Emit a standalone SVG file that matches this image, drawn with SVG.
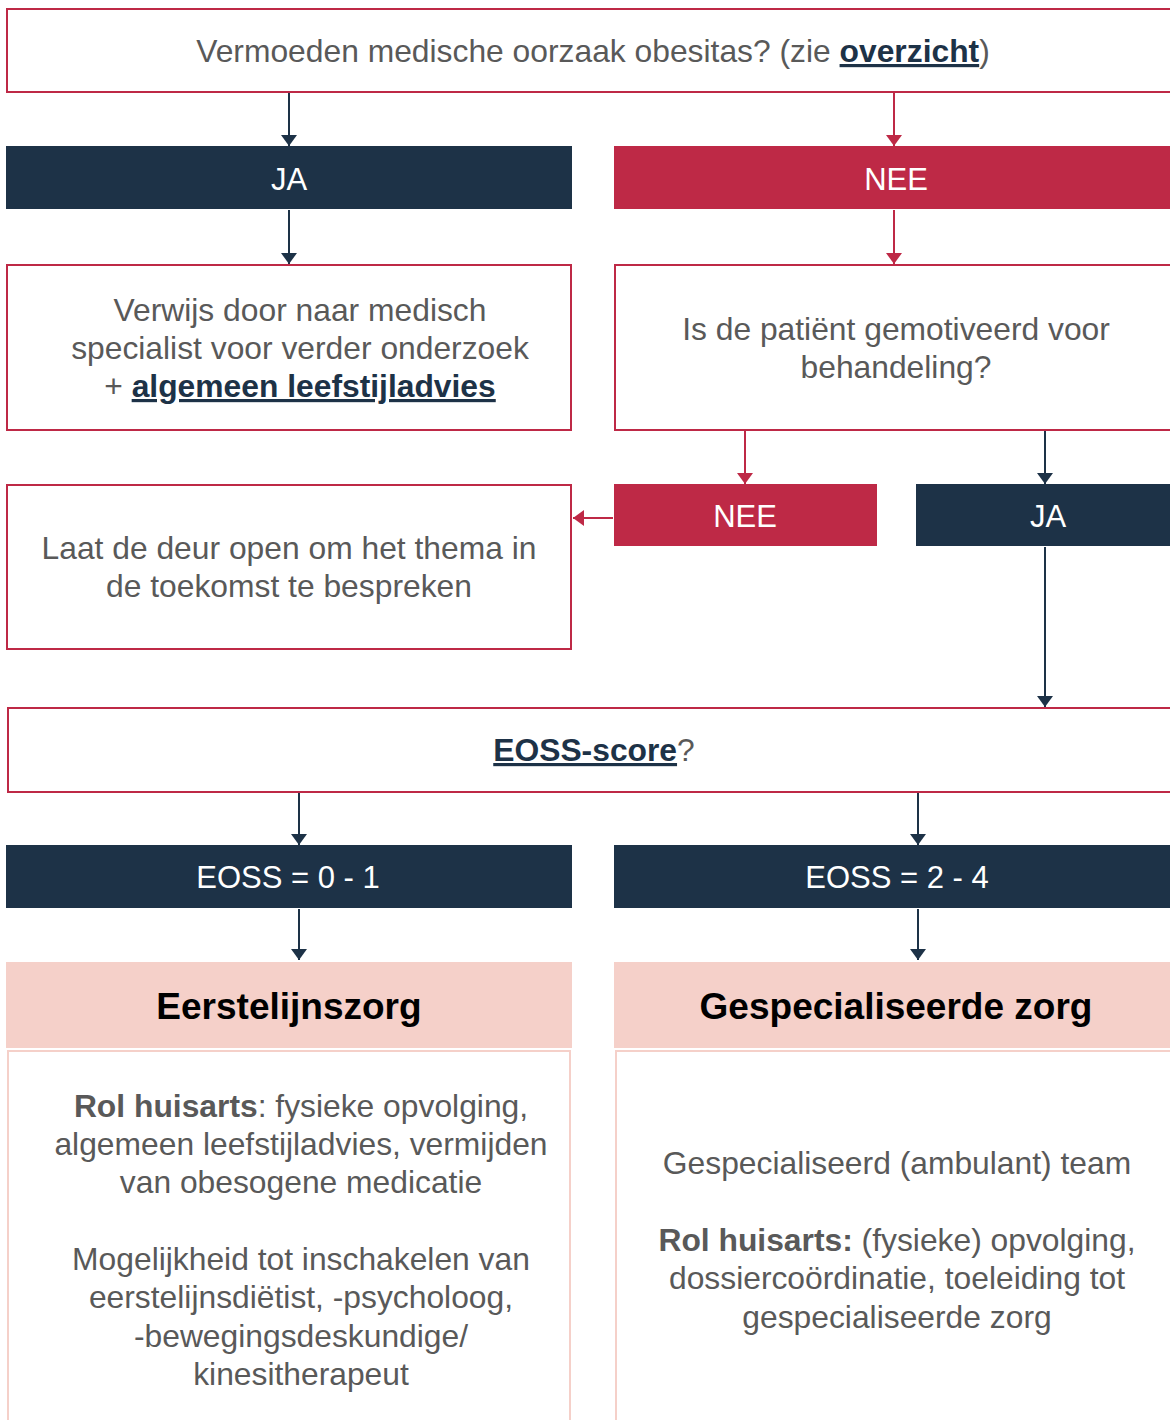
<svg xmlns="http://www.w3.org/2000/svg" width="1170" height="1420" viewBox="0 0 1170 1420">
<defs>
<style>
.t{font-family:"Liberation Sans",Arial,sans-serif;font-size:31.8px;fill:#595959;text-anchor:middle}
.w{fill:#ffffff;font-size:31px}
.b{font-weight:bold}
.lnk{font-weight:bold;fill:#1d3247;text-decoration:underline}
.h{font-family:"Liberation Sans",Arial,sans-serif;font-size:37px;font-weight:bold;fill:#000;text-anchor:middle}
.box{fill:#fff;stroke:#be2946;stroke-width:2}
.navy{fill:#1d3247}
.red{fill:#be2946}
.pink{fill:#f5d0c9}
.body{fill:#fff;stroke:#f5d0c9;stroke-width:2}
.cn{stroke:#1d3247;stroke-width:2;fill:none}
.cr{stroke:#be2946;stroke-width:2;fill:none}
</style>
<marker id="an" viewBox="0 0 11 16" refX="11" refY="8" markerWidth="11" markerHeight="16" markerUnits="userSpaceOnUse" orient="auto"><path d="M0,0 L11,8 L0,16 z" fill="#1d3247"/></marker>
<marker id="ar" viewBox="0 0 11 16" refX="11" refY="8" markerWidth="11" markerHeight="16" markerUnits="userSpaceOnUse" orient="auto"><path d="M0,0 L11,8 L0,16 z" fill="#be2946"/></marker>
</defs>
<rect width="1170" height="1420" fill="#fff"/>

<g id="connectors">
<line class="cn" x1="289" y1="93" x2="289" y2="146" marker-end="url(#an)"/>
<line class="cr" x1="894" y1="93" x2="894" y2="146" marker-end="url(#ar)"/>
<line class="cn" x1="289" y1="210" x2="289" y2="264" marker-end="url(#an)"/>
<line class="cr" x1="894" y1="210" x2="894" y2="264" marker-end="url(#ar)"/>
<line class="cr" x1="745" y1="431" x2="745" y2="484" marker-end="url(#ar)"/>
<line class="cn" x1="1045" y1="431" x2="1045" y2="484" marker-end="url(#an)"/>
<line class="cr" x1="613" y1="518" x2="573" y2="518" marker-end="url(#ar)"/>
<line class="cn" x1="1045" y1="547" x2="1045" y2="707" marker-end="url(#an)"/>
<line class="cn" x1="299" y1="793" x2="299" y2="845" marker-end="url(#an)"/>
<line class="cn" x1="918" y1="793" x2="918" y2="845" marker-end="url(#an)"/>
<line class="cn" x1="299" y1="909" x2="299" y2="960" marker-end="url(#an)"/>
<line class="cn" x1="918" y1="909" x2="918" y2="960" marker-end="url(#an)"/>
</g>

<g id="q-medisch">
<rect class="box" x="7" y="9" width="1180" height="83"/>
<text class="t" x="593" y="62">Vermoeden medische oorzaak obesitas? (zie <tspan class="lnk">overzicht</tspan>)</text>
</g>

<g id="ja1">
<rect class="navy" x="6" y="146" width="566" height="63"/>
<text class="t w" x="289" y="190">JA</text>
</g>

<g id="nee1">
<rect class="red" x="614" y="146" width="570" height="63"/>
<text class="t w" x="896" y="190">NEE</text>
</g>

<g id="verwijs">
<rect class="box" x="7" y="265" width="564" height="165"/>
<text class="t" x="300" y="321">Verwijs door naar medisch</text>
<text class="t" x="300" y="359">specialist voor verder onderzoek</text>
<text class="t" x="300" y="397">+ <tspan class="lnk">algemeen leefstijladvies</tspan></text>
</g>

<g id="q-motivatie">
<rect class="box" x="615" y="265" width="570" height="165"/>
<text class="t" x="896" y="340">Is de patiënt gemotiveerd voor</text>
<text class="t" x="896" y="378">behandeling?</text>
</g>

<g id="nee2">
<rect class="red" x="614" y="484" width="263" height="62"/>
<text class="t w" x="745" y="527">NEE</text>
</g>

<g id="ja2">
<rect class="navy" x="916" y="484" width="270" height="62"/>
<text class="t w" x="1048" y="527">JA</text>
</g>

<g id="laat">
<rect class="box" x="7" y="485" width="564" height="164"/>
<text class="t" x="289" y="559">Laat de deur open om het thema in</text>
<text class="t" x="289" y="597">de toekomst te bespreken</text>
</g>

<g id="q-eoss">
<rect class="box" x="8" y="708" width="1180" height="84"/>
<text class="t" x="594" y="761"><tspan class="lnk">EOSS-score</tspan>?</text>
</g>

<g id="eoss01">
<rect class="navy" x="6" y="845" width="566" height="63"/>
<text class="t w" x="288" y="888">EOSS = 0 - 1</text>
</g>

<g id="eoss24">
<rect class="navy" x="614" y="845" width="570" height="63"/>
<text class="t w" x="897" y="888">EOSS = 2 - 4</text>
</g>

<g id="eerstelijn">
<rect class="pink" x="6" y="962" width="566" height="86"/>
<text class="h" x="289" y="1019">Eerstelijnszorg</text>
<rect class="body" x="8" y="1051" width="562" height="380"/>
<text class="t" x="301" y="1117"><tspan class="b">Rol huisarts</tspan>: fysieke opvolging,</text>
<text class="t" x="301" y="1155">algemeen leefstijladvies, vermijden</text>
<text class="t" x="301" y="1193">van obesogene medicatie</text>
<text class="t" x="301" y="1270">Mogelijkheid tot inschakelen van</text>
<text class="t" x="301" y="1308">eerstelijnsdiëtist, -psycholoog,</text>
<text class="t" x="301" y="1347">-bewegingsdeskundige/</text>
<text class="t" x="301" y="1385">kinesitherapeut</text>
</g>

<g id="gespecialiseerd">
<rect class="pink" x="614" y="962" width="570" height="86"/>
<text class="h" x="896" y="1019">Gespecialiseerde zorg</text>
<rect class="body" x="616" y="1051" width="570" height="380"/>
<text class="t" x="897" y="1174">Gespecialiseerd (ambulant) team</text>
<text class="t" x="897" y="1251"><tspan class="b">Rol huisarts:</tspan> (fysieke) opvolging,</text>
<text class="t" x="897" y="1289">dossiercoördinatie, toeleiding tot</text>
<text class="t" x="897" y="1328">gespecialiseerde zorg</text>
</g>
</svg>
